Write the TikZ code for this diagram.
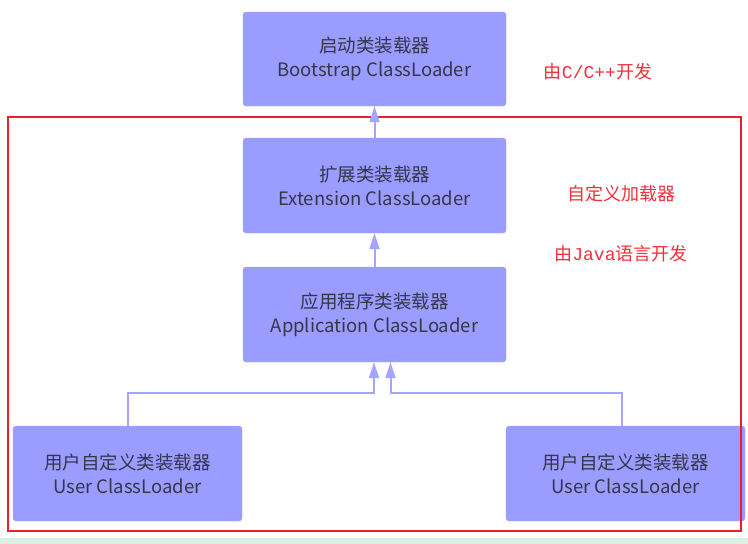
\documentclass[tikz,border=0pt]{standalone}
\usepackage{fontspec}
\setmainfont{Noto Sans CJK SC}
\newfontfamily\notefont{Noto Sans CJK SC}
\newfontfamily\notelatin{Liberation Mono}
\usepackage{tikz}
\usetikzlibrary{arrows.meta,positioning}
\definecolor{ink}{HTML}{34364A}
\definecolor{periwinkle}{HTML}{9A9CFF}
\definecolor{periline}{HTML}{A3A5FF}
\definecolor{redline}{HTML}{E5222B}
\definecolor{redtext}{HTML}{F0303A}
\definecolor{mintbar}{HTML}{DCEEDF}
\tikzset{
  >=Latex,
  every node/.style={text=ink},
  loader/.style={fill=periwinkle,draw=periline,rounded corners=3pt,align=center,
    font=\fontsize{18.5}{24}\selectfont,inner sep=0pt},
  inherit/.style={-{Triangle[length=16pt,width=10pt]},line width=2pt,draw=periline},
  note/.style={text=redtext,font=\notefont\fontsize{18}{20}\selectfont,inner sep=0pt},
  frame/.style={draw=redline,line width=1.8pt}
}
\begin{document}
\begin{tikzpicture}[x=1pt,y=-1pt]
  \useasboundingbox (0,0) rectangle (748,544);
  \fill[mintbar] (0,538) rectangle (748,544);

  \node[loader,minimum width=263pt,minimum height=94pt] (boot) at (374.5,59) {启动类装载器\\Bootstrap ClassLoader};
  \node[loader,minimum width=263pt,minimum height=95pt] (ext) at (374.5,185.5) {扩展类装载器\\Extension ClassLoader};
  \node[loader,minimum width=263pt,minimum height=95pt] (app) at (374.5,314.5) {应用程序类装载器\\Application ClassLoader};
  \node[loader,minimum width=229pt,minimum height=95pt] (userL) at (127.5,473.5) {用户自定义类装载器\\User ClassLoader};
  \node[loader,minimum width=239pt,minimum height=95pt] (userR) at (625.5,473.5) {用户自定义类装载器\\User ClassLoader};

  \draw[frame] (8,117) rectangle (741,531);

  \node[note] (native) at (598,72) {由{\notelatin C/C++}开发};
  \node[note] (custom) at (621,194) {自定义加载器};
  \node[note] (java) at (621,254) {由{\notelatin Java}语言开发};

  \coordinate (inL) at ([xshift=-0.5pt]app.south);
  \coordinate (inR) at ([xshift=16pt]app.south);

  \draw[inherit] (ext.north) -- (boot.south);
  \draw[inherit] (app.north) -- (ext.south);
  \draw[inherit] (userL.north) -- ++(0,-33) -| (inL);
  \draw[inherit] ([xshift=-4pt]userR.north) -- ++(0,-33) -| (inR);
\end{tikzpicture}
\end{document}
